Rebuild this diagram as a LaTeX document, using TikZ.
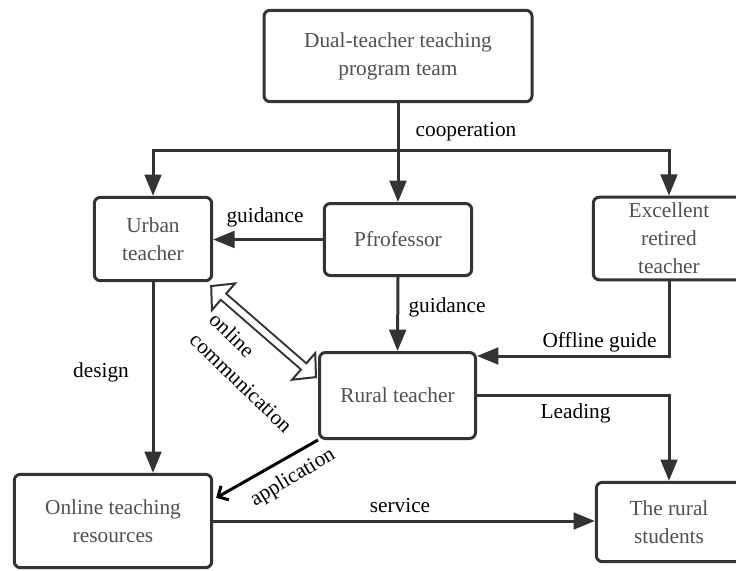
\documentclass[tikz,border=0pt]{standalone}
\usepackage{fontspec}
\setmainfont{Liberation Serif}
\usetikzlibrary{arrows.meta,positioning,calc}

\definecolor{linegray}{RGB}{51,51,51}
\definecolor{boxtext}{RGB}{80,80,80}

\tikzset{every picture/.style={line width=2.25pt}}
\tikzset{
	box/.style={draw=linegray, rounded corners=4.5pt, text=boxtext, align=center, inner sep=0pt, font=\fontsize{16}{21}\selectfont},
	lbl/.style={text=black, inner sep=0pt, font=\fontsize{16}{21}\selectfont},
	link/.style={draw=linegray, -{Triangle[length=16pt,width=12.5pt]}},
	apply/.style={draw=black, -{Straight Barb[length=6pt,width=12pt]}},
	comm/.style={draw=linegray, line width=7.5pt, {Triangle[length=14pt 0 0,width=30pt 0 0,fill=white,line width=1.5pt]}-{Triangle[length=14pt 0 0,width=30pt 0 0,fill=white,line width=1.5pt]}},
	comminner/.style={draw=white, line width=4.5pt, shorten <=10pt, shorten >=10pt}}

\begin{document}
\begin{tikzpicture}[x=0.75pt,y=0.75pt,yscale=-1,xscale=1]
	\useasboundingbox (0,0) rectangle (736,571);
	\clip (0,0) rectangle (736,571);

	% Boxes
	\node [box, minimum width=201pt, minimum height=68.5pt] (team) at (398,56) {Dual-teacher teaching\\program team};
	\node [box, minimum width=88pt, minimum height=62.5pt] (urban) at (153,239) {Urban\\teacher};
	\node [box, minimum width=110.5pt, minimum height=54pt] (prof) at (398,239.5) {Pfrofessor};
	\node [box, minimum width=113.5pt, minimum height=62pt] (excel) at (669,238.5) {Excellent\\retired\\teacher};
	\node [box, minimum width=117pt, minimum height=64.5pt] (rural) at (397.5,395.5) {Rural teacher};
	\node [box, minimum width=148pt, minimum height=70pt] (online) at (113,521) {Online teaching\\resources};
	\node [box, minimum width=109pt, minimum height=59.5pt] (students) at (669,522) {The rural\\students};

	% Connectors
	\coordinate (split) at (398,150);
	\draw [link] (team.south) -- (prof.north);
	\draw [link] (split) -| (urban.north);
	\draw [link] (split) -| (excel.north);
	\draw [link] (prof.west) -- (prof.west -| urban.east);
	\draw [link] (prof.south) -- (rural.north);
	\draw [link] (excel.south) |- ($(rural.north east)+(0,5)$);
	\draw [link] (rural.east) -| (students.north);
	\draw [link] (urban.south) -- (urban.south |- online.north);
	\draw [link] (online.east) -- (online.east -| students.west);
	\draw [apply] (rural.south west) -- ($(online.north east)+(3,25)$);
	% hollow double arrow
	\coordinate (commA) at ($(urban.south east)+(-3,3)$);
	\coordinate (commB) at ($(rural.north west)+(-1,27)$);
	\draw [comm] (commA) -- (commB);
	\draw [comminner] (commA) -- (commB);

	% Text Node
	\node [lbl] (coop) at (466,132) {cooperation};
	\node [lbl] (guide1) at (265,217) {guidance};
	\node [lbl, anchor=west] (guide2) at (407,307) {guidance};
	\node [lbl] (design) at (101,372) {design};
	\node [lbl, rotate=-44, align=left] (onlcomm) at (251,372.5) {online\\communication};
	\node [lbl, rotate=31] (appl) at (293,478) {application};
	\node [lbl, anchor=east] (offl) at (658,342) {Offline guide};
	\node [lbl, anchor=east] (lead) at (612,413) {Leading};
	\node [lbl] (serv) at (400,506) {service};

\end{tikzpicture}
\end{document}
